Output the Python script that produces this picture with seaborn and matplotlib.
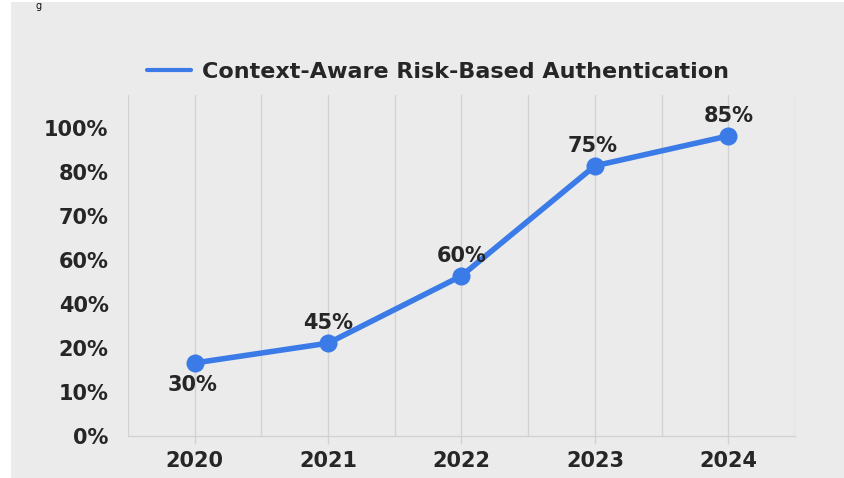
import matplotlib
matplotlib.use("Agg")
import matplotlib.pyplot as plt
import seaborn as sns
import pandas as pd
from matplotlib.patches import Rectangle

# ---- data ----
years = ["2020", "2021", "2022", "2023", "2024"]
# plotted height of each point, in units of the (evenly spaced) y tick slots
plot_pos = [1.66, 2.11, 3.64, 6.14, 6.82]
# annotated values shown next to the points
value_labels = ["30%", "45%", "60%", "75%", "85%"]
y_tick_labels = ["0%", "10%", "20%", "40%", "60%", "70%", "80%", "100%"]
series_name = "Context-Aware Risk-Based Authentication"

df = pd.DataFrame({"year": range(len(years)), "pos": plot_pos, "series": series_name})

sns.set_theme(style="white")
plt.rcParams["font.family"] = ["DejaVu Sans"]

W, H = 845, 478
fig = plt.figure(figsize=(W / 100, H / 100), dpi=100, facecolor="white")
# gray panel background (screenshot look)
fig.patches.append(Rectangle((11 / W, 0), 1 - 11 / W, (H - 2) / H,
                             transform=fig.transFigure, facecolor="#ebebeb",
                             edgecolor="none", zorder=-10))
# fragment of cut-off text at the very top
fig.text(36 / W, 1 - 1 / H, "g", fontsize=7, color="#111111", ha="left", va="top")

ax = fig.add_axes([128 / W, 1 - 436 / H, (795 - 128) / W, (436 - 95) / H])
ax.set_facecolor("none")
ax.set_zorder(5)

blue = "#3b7be8"
txt = "#262626"
sns.lineplot(data=df, x="year", y="pos", hue="series", palette=[blue], ax=ax,
             linewidth=4, marker="o", markersize=13, markeredgewidth=0, zorder=5)

ax.set_xlim(-0.5, len(years) - 0.5)
ax.set_ylim(0, 7.75)

# vertical grid every half step
for k in range(2 * len(years) + 1):
    xv = -0.5 + 0.5 * k
    ax.axvline(xv, color="#d2d2d2", linewidth=1.0, zorder=1)

for s in ["top", "left", "right"]:
    ax.spines[s].set_visible(False)
ax.spines["bottom"].set_color("#d2d2d2")
ax.spines["bottom"].set_linewidth(1.0)

ax.set_xticks(range(len(years)))
ax.set_xticklabels(years, fontsize=15, color=txt, fontweight="bold")
ax.set_yticks(range(len(y_tick_labels)))
ax.set_yticklabels(y_tick_labels, fontsize=15, color=txt, fontweight="bold")
ax.tick_params(axis="x", length=6, width=1, color="#d2d2d2", pad=5, bottom=True)
ax.tick_params(axis="y", length=0, pad=14)
ax.set_xlabel("")
ax.set_ylabel("")

# point annotations
offsets = [(-2, -22), (0, 20), (0, 20), (-2, 20), (0, 20)]
for i, (lab, (dx, dy)) in enumerate(zip(value_labels, offsets)):
    ax.annotate(lab, (i, plot_pos[i]), xytext=(dx, dy), textcoords="offset pixels",
                ha="center", va="center", fontsize=15, fontweight="bold",
                color=txt, zorder=6)

leg = ax.legend(loc="center", bbox_to_anchor=(0.465, 1 + (95 - 72) / (436 - 95)),
                frameon=False, prop={"size": 16, "weight": "bold"},
                handlelength=2.0, handletextpad=0.5, borderaxespad=0)
for t in leg.get_texts():
    t.set_color(txt)
for h in leg.get_lines():
    h.set_linewidth(3.0)
    h.set_marker("")

fig.savefig("out.png", dpi=100, facecolor="white")
